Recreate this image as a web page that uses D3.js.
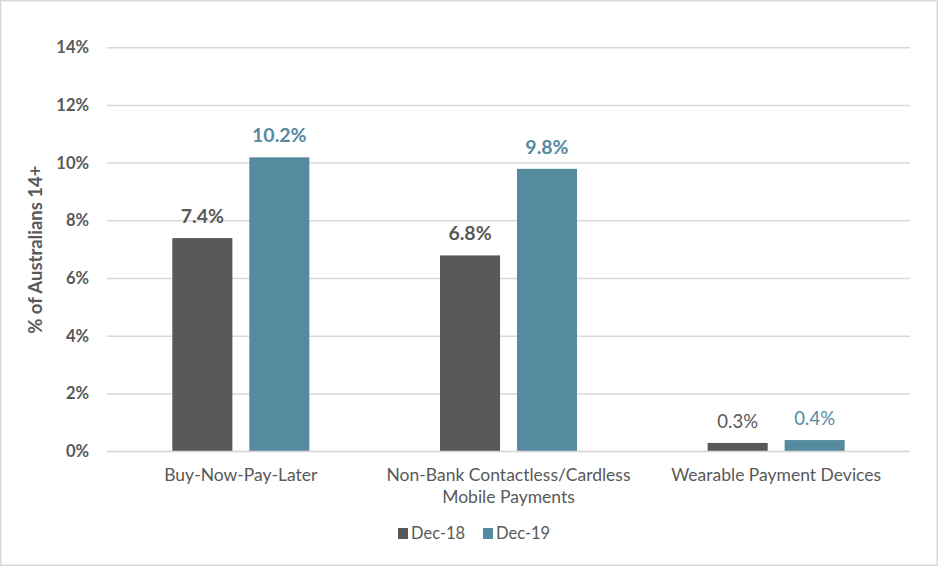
<!DOCTYPE html>
<meta charset="utf-8">
<style>
 body { margin: 0; background: #fff; }
 svg { display: block; }
 text { font-family: Lato, "Open Sans", sans-serif; fill: #595959; }
 .grid line { stroke: #d9d9d9; stroke-width: 1.5px; }
 .tick-label { font-size: 16.5px; font-weight: bold; }
 .cat-label { font-size: 17.5px; }
 .val-label { font-size: 19.5px; font-weight: bold; }
</style>

<svg id="chart"></svg>

<script src="https://cdn.jsdelivr.net/npm/d3@7"></script>
<script>

 var categories = [["Buy-Now-Pay-Later"],
                   ["Non-Bank Contactless/Cardless", "Mobile Payments"],
                   ["Wearable Payment Devices"]];
 var seriesNames = ["Dec-18", "Dec-19"];
 var dec18 = [7.4, 6.8, 0.3];
 var dec19 = [10.2, 9.8, 0.4];
 var yTicks = [0, 2, 4, 6, 8, 10, 12, 14];

 var chartW = 938, chartH = 566;
 var plotL = 107, plotR = 910, plotT = 47.7, plotB = 451.6;
 var colors = ["#595757", "#568a9f"];
 var labelColors = ["#595959", "#568a9f"];

 var svg = d3.select("#chart").attr("width", chartW).attr("height", chartH);

 // outer border
 svg.append("rect").attr("x", 0.75).attr("y", 0.75)
    .attr("width", chartW - 1.5).attr("height", chartH - 1.5)
    .attr("fill", "none").attr("stroke", "#d9d9d9").attr("stroke-width", 1.5);

 var y = d3.scaleLinear().domain([0, 14]).range([plotB, plotT]);
 var x0 = d3.scaleBand().domain(d3.range(categories.length)).range([plotL, plotR]);
 var x1 = d3.scaleBand().domain(d3.range(seriesNames.length))
            .range([x0.bandwidth() / 2 - 68.5, x0.bandwidth() / 2 + 68.5])
            .paddingInner(0.22);

 var grid = svg.append("g").attr("class", "grid");
 grid.selectAll("line").data(yTicks).enter().append("line")
     .attr("x1", plotL).attr("x2", plotR)
     .attr("y1", function(d) { return y(d); })
     .attr("y2", function(d) { return y(d); });

 svg.append("g").selectAll("text").data(yTicks).enter().append("text")
    .attr("class", "tick-label")
    .attr("x", 89).attr("y", function(d) { return y(d) + 5.5; })
    .attr("text-anchor", "end")
    .text(function(d) { return d + "%"; });

 svg.append("text")
    .attr("transform", "translate(42," + ((plotT + plotB) / 2) + ") rotate(-90)")
    .attr("text-anchor", "middle")
    .style("font-size", "18.5px").style("font-weight", "bold")
    .text("% of Australians 14+");

 var series = [dec18, dec19];
 series.forEach(function(vals, si) {
     var g = svg.append("g");
     g.selectAll("rect").data(vals).enter().append("rect")
      .attr("x", function(d, i) { return x0(i) + x1(si); })
      .attr("y", function(d) { return y(d); })
      .attr("width", x1.bandwidth())
      .attr("height", function(d) { return plotB - y(d); })
      .attr("fill", colors[si]);
     g.selectAll("text").data(vals).enter().append("text")
      .attr("class", "val-label")
      .attr("x", function(d, i) { return x0(i) + x1(si) + x1.bandwidth() / 2; })
      .attr("y", function(d) { return y(d) - 15; })
      .attr("text-anchor", "middle")
      .style("fill", labelColors[si])
      .style("font-weight", function(d) { return d < 1 ? "normal" : "bold"; })
      .style("font-size", function(d) { return d < 1 ? "18.5px" : null; })
      .text(function(d) { return d.toFixed(1) + "%"; });
 });

 // baseline axis
 svg.append("line").attr("x1", plotL).attr("x2", plotR)
    .attr("y1", plotB).attr("y2", plotB)
    .attr("stroke", "#d9d9d9").attr("stroke-width", 1.5);

 var cat = svg.append("g").selectAll("text").data(categories).enter().append("text")
    .attr("class", "cat-label")
    .attr("text-anchor", "middle")
    .attr("x", function(d, i) { return x0(i) + x0.bandwidth() / 2; })
    .attr("y", 481);
 cat.selectAll("tspan").data(function(d) { return d; }).enter().append("tspan")
    .attr("x", function() { return d3.select(this.parentNode).attr("x"); })
    .attr("dy", function(d, i) { return i ? 21.5 : 0; })
    .text(function(d) { return d; });

 // legend
 var legendX = [398, 483];
 var leg = svg.append("g").selectAll("g").data(seriesNames).enter().append("g")
    .attr("transform", function(d, i) { return "translate(" + legendX[i] + ",528)"; });
 leg.append("rect").attr("width", 10).attr("height", 11)
    .attr("fill", function(d, i) { return colors[i]; });
 leg.append("text").attr("x", 13).attr("y", 10.5)
    .style("font-size", "16.5px")
    .text(function(d) { return d; });

</script>
